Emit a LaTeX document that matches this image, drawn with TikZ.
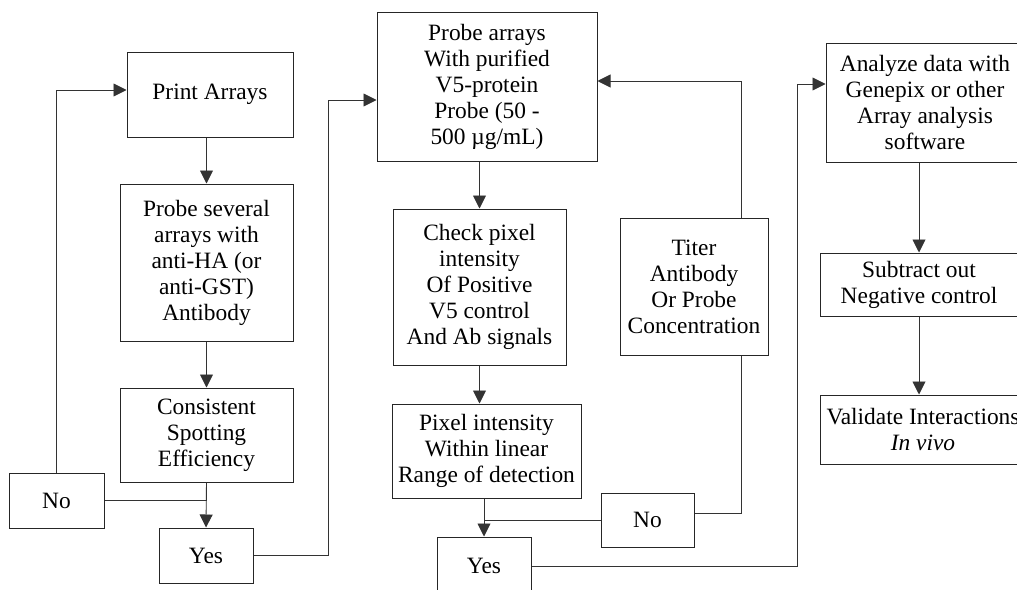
\documentclass[tikz,border=0pt]{standalone}
\usepackage{fontspec}
\setmainfont{Liberation Serif}
\usetikzlibrary{arrows.meta}
\begin{document}
\begin{tikzpicture}[x=1pt,y=-1pt,
  box/.style={draw=black!85, line width=1pt, inner sep=0pt, align=center,
    font=\fontsize{23.4}{26}\selectfont},
  arr/.style={draw=black!80, line width=0.9pt, -{Triangle[length=13pt,width=13pt]}},
  ln/.style={draw=black!80, line width=0.9pt}]
\useasboundingbox (0,0) rectangle (1017,589);
% column 1
\node[box, minimum width=166pt, minimum height=85pt] (print) at (210,94.5) {Print Arrays};
\node[box, minimum width=173pt, minimum height=157pt] (ps) at (206.5,262.5) {Probe several\\arrays with\\anti-HA (or\\anti-GST)\\Antibody};
\node[box, minimum width=173pt, minimum height=94pt] (cons) at (206.5,435) {Consistent\\Spotting\\Efficiency};
\node[box, minimum width=95pt, minimum height=55pt] (no1) at (56.5,500.5) {No};
\node[box, minimum width=94pt, minimum height=55pt] (yes1) at (206,555.5) {Yes};
% column 2
\node[box, minimum width=220pt, minimum height=149pt] (probe) at (487,86.5) {Probe arrays\\With purified\\V5-protein\\Probe (50 -\\500 µg/mL)};
\node[box, minimum width=173pt, minimum height=156pt] (check) at (479.5,287) {Check pixel\\intensity\\Of Positive\\V5 control\\And Ab signals};
\node[box, minimum width=189pt, minimum height=94pt] (pixel) at (486.5,451) {Pixel intensity\\Within linear\\Range of detection};
\node[box, minimum width=148pt, minimum height=137pt] (titer) at (694,286.5) {Titer\\Antibody\\Or Probe\\Concentration};
\node[box, minimum width=93pt, minimum height=54pt] (no2) at (647.5,520) {No};
\node[box, minimum width=94pt, minimum height=58pt] (yes2) at (484,566) {Yes};
% column 3
\node[box, minimum width=198pt, minimum height=119pt] (analyze) at (925,102.5) {Analyze data with\\Genepix or other\\Array analysis\\software};
\node[box, minimum width=198pt, minimum height=63pt] (sub) at (919,284.5) {Subtract out\\Negative control};
\node[box, minimum width=206pt, minimum height=69pt] (val) at (923,429.5) {Validate Interactions\\\textit{In vivo}};
% helper coordinates
\coordinate (c1) at (328,100);
\coordinate (c2) at (797,84);
% connectors
\draw[arr] (no1.north) |- ([yshift=4.5pt]print.west);
\draw[arr] (print.south -| ps.north) -- (ps.north);
\draw[arr] (ps.south) -- (cons.north);
\draw[arr] (cons.south) -- (yes1.north);
\draw[ln] (no1.east) -- (no1.east -| cons.south);
\draw[arr] (yes1.east) -| (c1) -- ([yshift=-13.5pt]probe.west);
\draw[arr] (probe.south -| check.north) -- (check.north);
\draw[arr] (check.south) -- (check.south |- pixel.north);
\draw[arr] (pixel.south -| yes2.north) -- (yes2.north);
\draw[ln] (no2.west) -- (no2.west -| yes2.north);
\draw[ln] ([yshift=7pt]no2.east) -| ([xshift=47pt]titer.south);
\draw[arr] ([xshift=47pt]titer.north) |- ([yshift=5.5pt]probe.east);
\draw[arr] (yes2.east) -| (c2) -- ([yshift=18.5pt]analyze.west);
\draw[arr] (analyze.south -| sub.north) -- (sub.north);
\draw[arr] (sub.south) -- (sub.south |- val.north);
\end{tikzpicture}
\end{document}
